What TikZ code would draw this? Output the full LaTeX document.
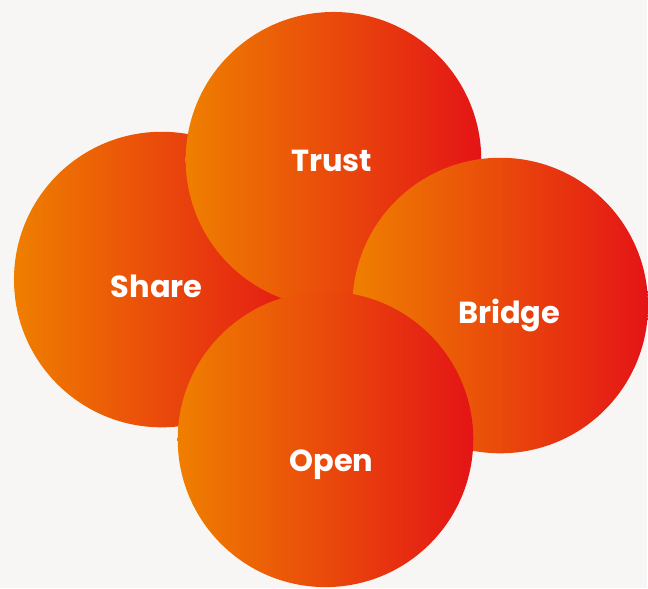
\documentclass[tikz,border=0pt]{standalone}
\usepackage{fontspec}
\setmainfont{Poppins}
\usepackage{tikz}
\usetikzlibrary{positioning}

\definecolor{warmorange}{RGB}{239,127,0}
\definecolor{warmred}{RGB}{228,20,22}
\definecolor{paper}{RGB}{247,246,245}

\begin{document}
\begin{tikzpicture}[
      x=1pt,y=1pt,
      bubble/.style={
         circle,
         minimum size=296pt,
         inner sep=0pt,
         left color=warmorange,
         right color=warmred,
         draw=none
      },
      word/.style={
         text=white,
         font=\bfseries\fontsize{30.5}{36}\selectfont,
         inner sep=0pt
      }
    ]
    % page
    \fill[paper] (0,0) rectangle (648,589);
    % the four circles, back to front
    \node (share)  [bubble] at (162,309) {};
    \node (trust)  [bubble] at (334,429) {};
    \node (bridge) [bubble] at (501,283) {};
    \node (open)   [bubble] at (326,149) {};
    % labels
    \node (share-text)  [word] at (157,302) {Share};
    \node (trust-text)  [word] at (332,428) {Trust};
    \node (bridge-text) [word] at (510,273) {Bridge};
    \node (open-text)   [word] at (332,124) {Open};
\end{tikzpicture}
\end{document}
